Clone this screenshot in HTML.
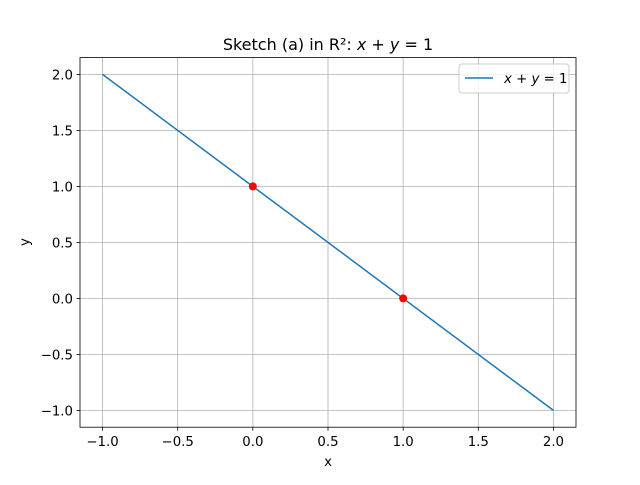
<!DOCTYPE html>
<html><head><meta charset="utf-8"><style>
body{margin:0;background:#fff}
svg text{font-family:"DejaVu Sans","Liberation Sans",sans-serif;fill:#000}
</style></head><body>
<svg id="chart" width="640" height="480" xmlns="http://www.w3.org/2000/svg">
<rect width="640" height="480" fill="#fff"/>
<g id="grid"></g>
<g id="ticks"></g>
<g id="series"></g>
<rect x="80" y="57.6" width="496" height="369.6" fill="none" stroke="#000" stroke-width="0.8"/>
<text x="328" y="50" font-size="16" text-anchor="middle">Sketch (a) in R²: <tspan font-style="italic">x</tspan> + <tspan font-style="italic">y</tspan> = 1</text>
<text x="328" y="466" font-size="13.3" text-anchor="middle">x</text>
<text x="29" y="242" font-size="13.3" text-anchor="middle" transform="rotate(-90 29 242)">y</text>
<g>
<rect x="459" y="64" width="110" height="29" rx="3" fill="#fff" fill-opacity="0.8" stroke="#ccc"/>
<line x1="465" y1="78" x2="493" y2="78" stroke="#1f77b4" stroke-width="1.5"/>
<text x="504" y="83" font-size="13.3"><tspan font-style="italic">x</tspan> + <tspan font-style="italic">y</tspan> = 1</text>
</g>
</svg>
<script>
const lineX=[-1,2];
const lineY=[2,-1];
const pointX=[0,1];
const pointY=[1,0];
const xTicks=[-1.0,-0.5,0.0,0.5,1.0,1.5,2.0];
const yTicks=[-1.0,-0.5,0.0,0.5,1.0,1.5,2.0];
const NS="http://www.w3.org/2000/svg";
const sx=v=>80+(v+1.15)/3.3*496;
const sy=v=>427.2-(v+1.15)/3.3*369.6;
function mk(t,a,p){const e=document.createElementNS(NS,t);for(const k in a)e.setAttribute(k,a[k]);p.appendChild(e);return e;}
const grid=document.getElementById('grid'),ticks=document.getElementById('ticks'),ser=document.getElementById('series');
xTicks.forEach(v=>{
 const g=mk('line',{x1:sx(v),x2:sx(v),y1:57.6,y2:427.2,stroke:'#b0b0b0','stroke-width':0.8},grid);
 
 
 mk('line',{x1:sx(v),x2:sx(v),y1:427.2,y2:430.7,stroke:'#000','stroke-width':0.8},ticks);
 const t=mk('text',{x:sx(v),y:446,'font-size':13.3,'text-anchor':'middle'},ticks);
 t.textContent=(v<0?'\u2212':'')+Math.abs(v).toFixed(1);
 
 
});
yTicks.forEach(v=>{
 const g=mk('line',{x1:80,x2:576,y1:sy(v),y2:sy(v),stroke:'#b0b0b0','stroke-width':0.8},grid);
 
 
 mk('line',{x1:76.5,x2:80,y1:sy(v),y2:sy(v),stroke:'#000','stroke-width':0.8},ticks);
 const t=mk('text',{x:73,y:sy(v)+5,'font-size':13.3,'text-anchor':'end'},ticks);
 t.textContent=(v<0?'\u2212':'')+Math.abs(v).toFixed(1);
 
 
});
const l=mk('polyline',{points:lineX.map((x,i)=>sx(x)+','+sy(lineY[i])).join(' '),fill:'none',stroke:'#1f77b4','stroke-width':1.5},ser);


pointX.forEach((x,i)=>{
 const c=mk('circle',{cx:sx(x),cy:sy(pointY[i]),r:4,fill:'red'},ser);
 
 
});
</script>
</body></html>
